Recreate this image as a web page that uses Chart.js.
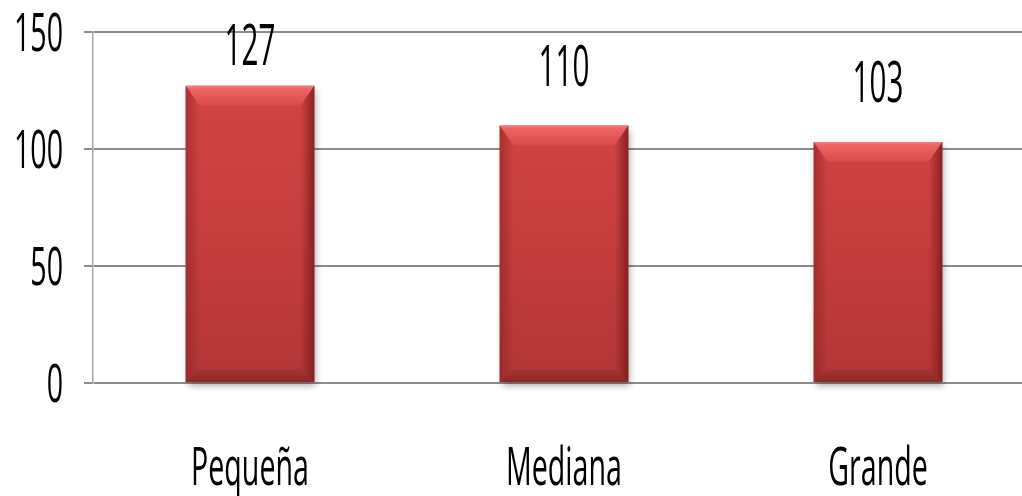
<!DOCTYPE html>
<html>
<head>
<meta charset="utf-8">
<script src="https://cdn.jsdelivr.net/npm/chart.js@4/dist/chart.umd.min.js"></script>
<style>
  html, body { margin: 0; padding: 0; background: #fff; overflow: hidden; }
</style>
</head>
<body>
<canvas id="myChart" width="1035" height="496"></canvas>
<script>
var categories = ['Pequeña', 'Mediana', 'Grande']
var values = [127, 110, 103]
var yTicks = [0, 50, 100, 150]

// the original text is a narrow font, so draw it squeezed sideways
var FONT = '"Open Sans", "Noto Sans", sans-serif'

function drawText(ctx, text, x, y, size, sx, align) {
  ctx.save()
  ctx.translate(x, y)
  ctx.scale(sx, 1)
  ctx.font = size + 'px ' + FONT
  ctx.fillStyle = '#000'
  ctx.textAlign = align
  ctx.textBaseline = 'alphabetic'
  ctx.fillText(text, 0, 0)
  ctx.restore()
}

function vGrad(ctx, y0, y1, stops) {
  var g = ctx.createLinearGradient(0, y0, 0, y1)
  stops.forEach(function (s) { g.addColorStop(s[0], s[1]) })
  return g
}

var barLook = {
  id: 'barLook',
  beforeDatasetsDraw: function (chart) {
    var ctx = chart.ctx
    ctx.save()
    ctx.shadowColor = 'rgba(0,0,0,0.35)'
    ctx.shadowBlur = 7
    ctx.shadowOffsetX = 2
    ctx.shadowOffsetY = 4
  },
  afterDatasetsDraw: function (chart) {
    var ctx = chart.ctx
    ctx.restore()
    var meta = chart.getDatasetMeta(0)
    meta.data.forEach(function (bar) {
      var l = bar.x - bar.width / 2
      var r = bar.x + bar.width / 2
      var t = bar.y
      var b = bar.base
      var bev = 20, side = 14, bot = 13
      // top bevel
      ctx.beginPath()
      ctx.moveTo(l, t); ctx.lineTo(r, t)
      ctx.lineTo(r - side, t + bev); ctx.lineTo(l + side, t + bev)
      ctx.closePath()
      ctx.fillStyle = vGrad(ctx, t, t + bev, [[0, '#f67e7e'], [0.15, '#ee6464'], [1, '#d84a4a']])
      ctx.fill()
      // bottom bevel
      ctx.beginPath()
      ctx.moveTo(l, b); ctx.lineTo(r, b)
      ctx.lineTo(r - side, b - bot); ctx.lineTo(l + side, b - bot)
      ctx.closePath()
      ctx.fillStyle = vGrad(ctx, b - bot, b, [[0, '#a83434'], [1, '#8a2828']])
      ctx.fill()
      // side shading
      var gl = ctx.createLinearGradient(l, 0, l + side, 0)
      gl.addColorStop(0, 'rgba(120,25,25,0.45)')
      gl.addColorStop(1, 'rgba(120,25,25,0)')
      ctx.fillStyle = gl
      ctx.beginPath()
      ctx.moveTo(l, t); ctx.lineTo(l + side, t + bev)
      ctx.lineTo(l + side, b - bot); ctx.lineTo(l, b)
      ctx.closePath()
      ctx.fill()
      var gr = ctx.createLinearGradient(r, 0, r - side, 0)
      gr.addColorStop(0, 'rgba(110,20,20,0.7)')
      gr.addColorStop(1, 'rgba(110,20,20,0)')
      ctx.fillStyle = gr
      ctx.beginPath()
      ctx.moveTo(r, t); ctx.lineTo(r - side, t + bev)
      ctx.lineTo(r - side, b - bot); ctx.lineTo(r, b)
      ctx.closePath()
      ctx.fill()
    })
  },
}

var textLabels = {
  id: 'textLabels',
  afterDraw: function (chart) {
    var ctx = chart.ctx
    var x = chart.scales.x
    var y = chart.scales.y
    var area = chart.chartArea
    yTicks.forEach(function (v) {
      drawText(ctx, String(v), 63, y.getPixelForValue(v) + 19, 53, 0.54, 'right')
    })
    categories.forEach(function (c, i) {
      drawText(ctx, c, x.getPixelForValue(i), 485, 53, 0.54, 'center')
    })
    chart.getDatasetMeta(0).data.forEach(function (bar, i) {
      var base = Math.max(bar.y - 40, area.top + 33)
      drawText(ctx, String(values[i]), bar.x, base, 57, 0.52, 'center')
    })
  },
}

var ctx = document.getElementById('myChart').getContext('2d')
var myChart = new Chart(ctx, {
  type: 'bar',
  data: {
    labels: categories,
    datasets: [
      {
        data: values,
        backgroundColor: function (c) {
          var a = c.chart.chartArea
          if (!a) return '#cc4040'
          return vGrad(c.chart.ctx, a.top, a.bottom, [[0, '#d64646'], [0.5, '#c93f3f'], [1, '#b33636']])
        },
        borderWidth: 0,
        barPercentage: 0.41,
        categoryPercentage: 1,
        clip: false,
      },
    ],
  },
  options: {
    responsive: false,
    animation: false,
    devicePixelRatio: 1,
    layout: { padding: { left: 84, top: 32, right: 0, bottom: 113 } },
    plugins: { legend: { display: false }, tooltip: { enabled: false } },
    scales: {
      x: {
        grid: { display: false, drawTicks: false },
        border: { display: false },
        ticks: { display: false },
      },
      y: {
        min: 0,
        max: 150,
        ticks: { display: false, stepSize: 50 },
        grid: { color: '#8c8c8c', lineWidth: 2, tickLength: 9 },
        border: { color: '#a6a6a6', width: 1.5 },
      },
    },
  },
  plugins: [barLook, textLabels],
})
</script>
</body>
</html>
